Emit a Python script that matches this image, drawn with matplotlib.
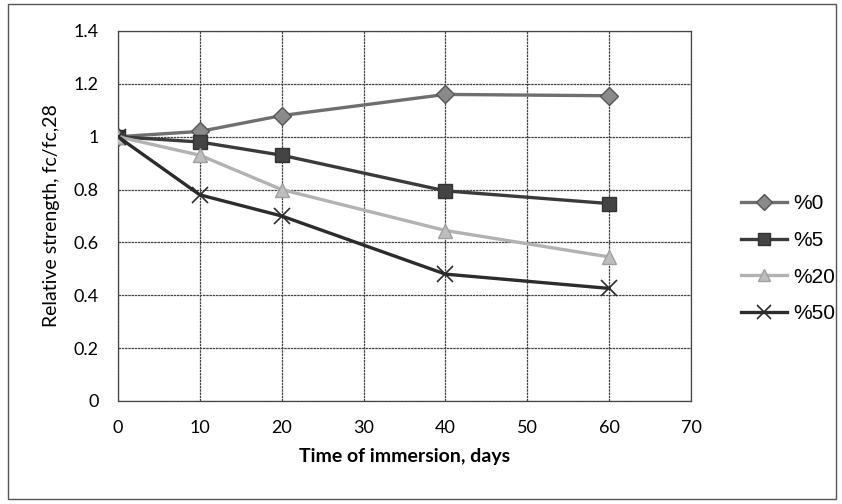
import numpy as np
import matplotlib.pyplot as plt
from matplotlib.patches import Rectangle

# relative compressive strength vs immersion time
days = [0, 10, 20, 40, 60]
s0 = [1.0, 1.02, 1.08, 1.16, 1.155]
s5 = [1.0, 0.98, 0.93, 0.795, 0.747]
s20 = [1.0, 0.93, 0.80, 0.645, 0.545]
s50 = [1.0, 0.78, 0.70, 0.48, 0.426]
labels = ['%0', '%5', '%20', '%50']

fig = plt.figure(figsize=(8.42, 5.04), dpi=100)
ax = fig.add_axes([0.1401, 0.2044, 0.6806, 0.7341])

styles = [
    dict(color='#6f6f6f', marker='D', ms=9, mfc='#8a8a8a', mec='#555555'),
    dict(color='#3a3a3a', marker='s', ms=10, mfc='#444444', mec='#333333'),
    dict(color='#b2b2b2', marker='^', ms=10, mfc='#bdbdbd', mec='#a0a0a0'),
    dict(color='#2c2c2c', marker='x', ms=11, mew=1.2),
]
for ys, lab, st in zip([s0, s5, s20, s50], labels, styles):
    ax.plot(days, ys, lw=2.4, label=lab, zorder=3, **st)

ax.set_xlim(0, 70)
ax.set_ylim(0, 1.4)
ax.set_xticks(np.arange(0, 71, 10))
ax.set_yticks(np.arange(0, 1.41, 0.2))
ax.set_yticklabels(['0', '0.2', '0.4', '0.6', '0.8', '1', '1.2', '1.4'])
ax.grid(True, color='#444444', lw=0.9, ls=(0, (2, 0.6)))
ax.set_axisbelow(True)
for sp in ax.spines.values():
    sp.set_color('#444444')
    sp.set_linewidth(0.9)
ax.tick_params(length=0, pad=14, labelsize=13)
for t in ax.get_xticklabels() + ax.get_yticklabels():
    t.set_fontfamily('Lato')

ax.set_xlabel('Time of immersion, days', fontfamily='Lato', fontweight='bold',
              fontsize=14, labelpad=8)
ax.set_ylabel('Relative strength, fc/fc,28', fontfamily='Lato', fontsize=14,
              labelpad=10)

ax.legend(loc='center left', bbox_to_anchor=(1.055, 0.384), frameon=False,
          prop={'family': 'Liberation Sans', 'size': 15}, handlelength=2.2,
          handletextpad=0.3, labelspacing=0.85, markerscale=0.9)

# outer chart frame
fig.patches.append(Rectangle((0.009, 0.01), 0.984, 0.983, transform=fig.transFigure,
                             fill=False, ec='#555555', lw=1.0))

fig.savefig('out.png', dpi=100)
